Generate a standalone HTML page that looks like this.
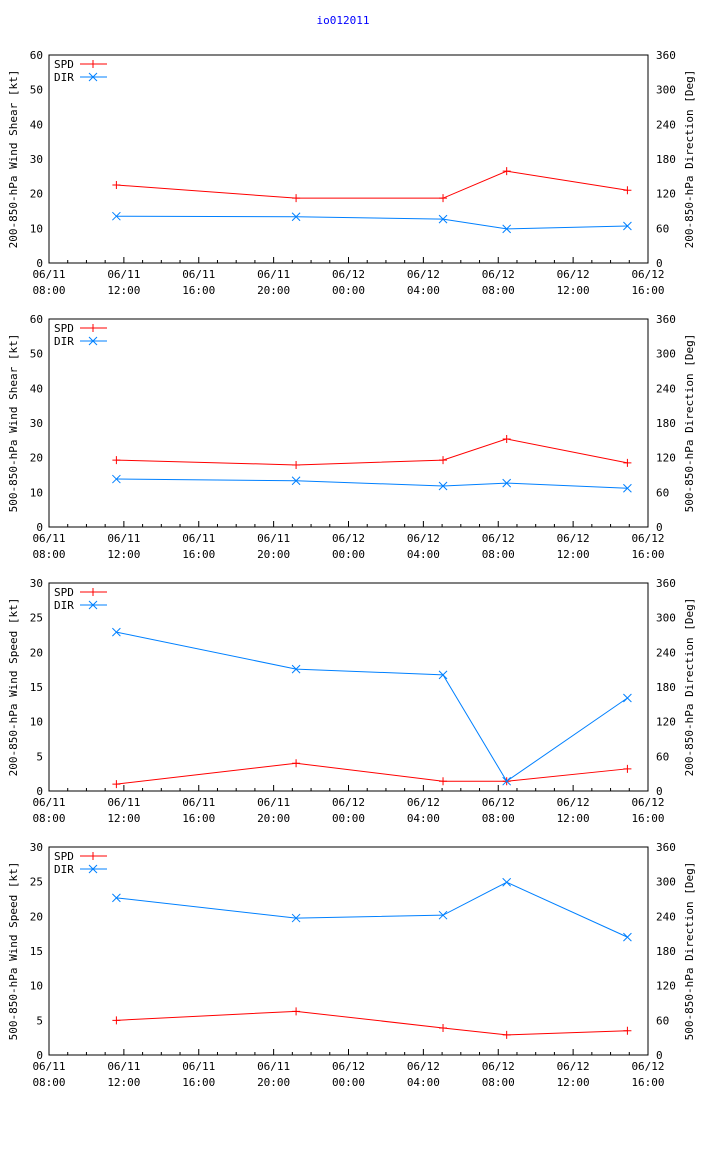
<!DOCTYPE html>
<html><head><meta charset="utf-8"><style>
body{margin:0;background:#fff;}
svg{display:block;font-family:"DejaVu Sans Mono","Liberation Mono",monospace;font-size:11px;}
</style></head><body>
<svg id="c" width="704" height="1156" xmlns="http://www.w3.org/2000/svg">
<text x="343" y="24" fill="#0000ff" text-anchor="middle">io012011</text>
</svg>
<script>
const hours=[3.6,13.2,21.05,24.45,30.9];
const p1Spd=[22.5,18.7,18.7,26.5,21];
const p1Dir=[81,80,76,59,64];
const p2Spd=[19.3,17.9,19.3,25.4,18.5];
const p2Dir=[83,80,71,76,67];
const p3Spd=[1,4,1.4,1.4,3.2];
const p3Dir=[275,211,201,17,161];
const p4Spd=[5,6.3,3.9,2.9,3.5];
const p4Dir=[272,237,242,299,204];
const xTickDates=["06/11","06/11","06/11","06/11","06/12","06/12","06/12","06/12","06/12"];
const xTickTimes=["08:00","12:00","16:00","20:00","00:00","04:00","08:00","12:00","16:00"];
const leftTicks60=[0,10,20,30,40,50,60];
const leftTicks30=[0,5,10,15,20,25,30];
const rightTicks=[0,60,120,180,240,300,360];
const panels=[
 {top:55,spd:p1Spd,dir:p1Dir,lmax:60,lt:leftTicks60,ll:"200-850-hPa Wind Shear [kt]",rl:"200-850-hPa Direction [Deg]"},
 {top:319,spd:p2Spd,dir:p2Dir,lmax:60,lt:leftTicks60,ll:"500-850-hPa Wind Shear [kt]",rl:"500-850-hPa Direction [Deg]"},
 {top:583,spd:p3Spd,dir:p3Dir,lmax:30,lt:leftTicks30,ll:"200-850-hPa Wind Speed [kt]",rl:"200-850-hPa Direction [Deg]"},
 {top:847,spd:p4Spd,dir:p4Dir,lmax:30,lt:leftTicks30,ll:"500-850-hPa Wind Speed [kt]",rl:"500-850-hPa Direction [Deg]"}];
const svg=document.getElementById('c');
const NS="http://www.w3.org/2000/svg";
function mk(t,a,txt){const e=document.createElementNS(NS,t);for(const k in a)e.setAttribute(k,a[k]);if(txt!==undefined)e.textContent=txt;svg.appendChild(e);return e;}
const L=49,R=648,H=208,XH=32;
const xs=h=>L+h*(R-L)/XH;
panels.forEach((p,i)=>{
 const T=p.top,B=T+H;
 const yl=v=>B-v/p.lmax*H, yr=v=>B-v/360*H;
 let e=mk('rect',{x:L,y:T,width:R-L,height:H,fill:'none',stroke:'#000','stroke-width':1});
 
 
 for(let h=0;h<=XH;h++){const x=xs(h),len=h%4==0?6:3;
  mk('line',{x1:x,x2:x,y1:B,y2:B-len,stroke:'#000'});}
 xTickDates.forEach((d,k)=>{const x=xs(k*4);
  e=mk('text',{x:x,y:B+15,'text-anchor':'middle'},d);
  
  e=mk('text',{x:x,y:B+31,'text-anchor':'middle'},xTickTimes[k]);
  });
 p.lt.forEach(v=>{const y=yl(v);
  e=mk('text',{x:L-6,y:y+4,'text-anchor':'end'},v);});
 rightTicks.forEach(v=>{const y=yr(v);
  e=mk('text',{x:R+8,y:y+4},v);});
 const cy=T+H/2;
 e=mk('text',{x:17,y:cy,'text-anchor':'middle',transform:`rotate(-90 17 ${cy})`},p.ll);
 
 e=mk('text',{x:693,y:cy,'text-anchor':'middle',transform:`rotate(-90 693 ${cy})`},p.rl);
 
 e=mk('text',{x:54,y:T+13},'SPD');
 mk('line',{x1:80,x2:107,y1:T+9,y2:T+9,stroke:'#ff0000'});
 mk('path',{d:`M89 ${T+9}h8M93 ${T+5}v8`,stroke:'#ff0000'});
 e=mk('text',{x:54,y:T+26},'DIR');
 mk('line',{x1:80,x2:107,y1:T+22,y2:T+22,stroke:'#0080ff'});
 mk('path',{d:`M89 ${T+18}l8 8M97 ${T+18}l-8 8`,stroke:'#0080ff'});
 e=mk('polyline',{points:hours.map((h,k)=>xs(h)+','+yl(p.spd[k])).join(' '),fill:'none',stroke:'#ff0000'});
 
 hours.forEach((h,k)=>{const x=xs(h),y=yl(p.spd[k]);e=mk('path',{d:`M${x-4} ${y}h8M${x} ${y-4}v8`,stroke:'#ff0000'});
  });
 e=mk('polyline',{points:hours.map((h,k)=>xs(h)+','+yr(p.dir[k])).join(' '),fill:'none',stroke:'#0080ff'});
 
 hours.forEach((h,k)=>{const x=xs(h),y=yr(p.dir[k]);e=mk('path',{d:`M${x-4} ${y-4}l8 8M${x+4} ${y-4}l-8 8`,stroke:'#0080ff'});
  });
});
</script>
</body></html>
